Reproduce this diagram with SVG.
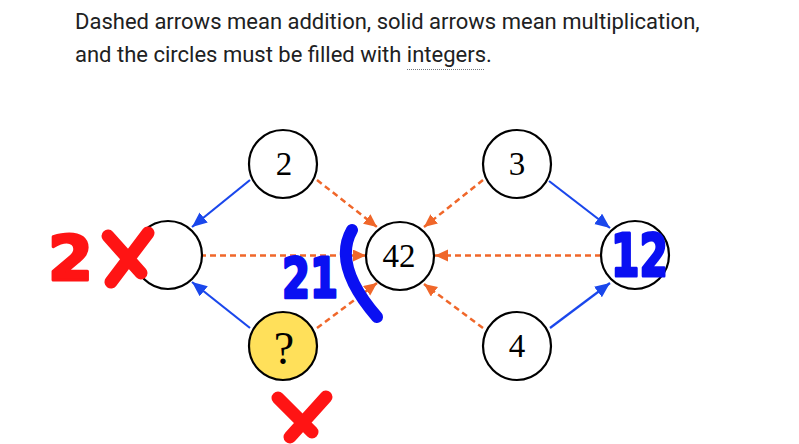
<svg xmlns="http://www.w3.org/2000/svg" width="799" height="444" viewBox="0 0 799 444">
<style>
.hdr{font-family:Roboto,"Liberation Sans",sans-serif;font-size:22px;fill:#202122}
.node circle{fill:#fff;stroke:#000;stroke-width:2.2}
.node text{font-family:"Liberation Serif","DejaVu Serif",serif;font-size:33px;fill:#000;text-anchor:middle}
.mul{stroke:#1a47ec;stroke-width:2.2;fill:none;marker-end:url(#ab)}
.add{stroke:#f0672a;stroke-width:2.5;stroke-dasharray:6 4;fill:none;marker-end:url(#ao)}
.hb{font-family:"DejaVu Sans","Liberation Sans",sans-serif;font-weight:bold;fill:#0a10f2;stroke:#0a10f2;stroke-width:3;stroke-linejoin:round}
.hr{font-family:"DejaVu Sans","Liberation Sans",sans-serif;font-weight:bold;fill:#ff1414;stroke:#ff1414;stroke-width:3;stroke-linejoin:round}
.xr{stroke:#ff1414;stroke-width:13;stroke-linecap:round;fill:none}
</style>
<defs>
<marker id="ab" markerUnits="userSpaceOnUse" markerWidth="16" markerHeight="14" refX="15" refY="6.5" orient="auto"><path d="M0,0 L15,6.5 L0,13 Z" fill="#1a47ec"/></marker>
<marker id="ao" markerUnits="userSpaceOnUse" markerWidth="14" markerHeight="13" refX="13" refY="6" orient="auto"><path d="M0,0 L13,6 L0,12 Z" fill="#f0672a"/></marker>
</defs>
<text class="hdr" x="75" y="29">Dashed arrows mean addition, solid arrows mean multiplication,</text>
<text class="hdr" x="75" y="62">and the circles must be filled with integers.</text>
<line x1="407" y1="69.5" x2="484" y2="69.5" stroke="#72777d" stroke-width="1" stroke-dasharray="1 1"/>
<g id="connectors">
<line class="mul" x1="250" y1="180" x2="192" y2="227"/>
<line class="mul" x1="250" y1="328" x2="192" y2="282"/>
<line class="mul" x1="549" y1="181" x2="610" y2="228"/>
<line class="mul" x1="550" y1="328" x2="610" y2="283"/>
<line class="add" x1="317" y1="180" x2="377" y2="227"/>
<line class="add" x1="317" y1="328" x2="377" y2="283"/>
<line class="add" x1="200" y1="255.5" x2="366" y2="255.5"/>
<line class="add" x1="483" y1="180" x2="424" y2="227"/>
<line class="add" x1="601" y1="255.5" x2="435" y2="255.5"/>
<line class="add" x1="483" y1="328" x2="424" y2="284"/>
</g>
<g id="n2" class="node"><circle cx="283" cy="164" r="34"/><text x="284" y="175">2</text></g>
<g id="nL" class="node"><circle cx="168" cy="255" r="34"/></g>
<g id="n42" class="node"><circle cx="400" cy="256" r="34"/><text x="399" y="267">42</text></g>
<g id="n3" class="node"><circle cx="517" cy="164" r="34"/><text x="517" y="175">3</text></g>
<g id="nR" class="node"><circle cx="635" cy="255" r="34"/></g>
<g id="n4" class="node"><circle cx="517" cy="346" r="34"/><text x="517" y="357">4</text></g>
<g id="nQ" class="node"><circle cx="283" cy="346" r="34" style="fill:#ffe05a"/><text x="284" y="364" style="font-size:46px">?</text></g>
<g id="handwriting">
<text class="hr" x="48" y="280" font-size="62" textLength="45" lengthAdjust="spacingAndGlyphs">2</text>
<path class="xr" d="M108,236 L141,273 M148,233 L111,282"/>
<text class="hb" x="282" y="297" font-size="56" textLength="56" lengthAdjust="spacingAndGlyphs">21</text>
<path d="M352,230 Q332,265 377,317" stroke="#0a10f2" stroke-width="12" stroke-linecap="round" fill="none"/>
<text class="hb" x="611" y="276" font-size="58" textLength="57" lengthAdjust="spacingAndGlyphs">12</text>
<path class="xr" d="M278,398 L312,432 M326,397 L290,437"/>
</g>
</svg>
